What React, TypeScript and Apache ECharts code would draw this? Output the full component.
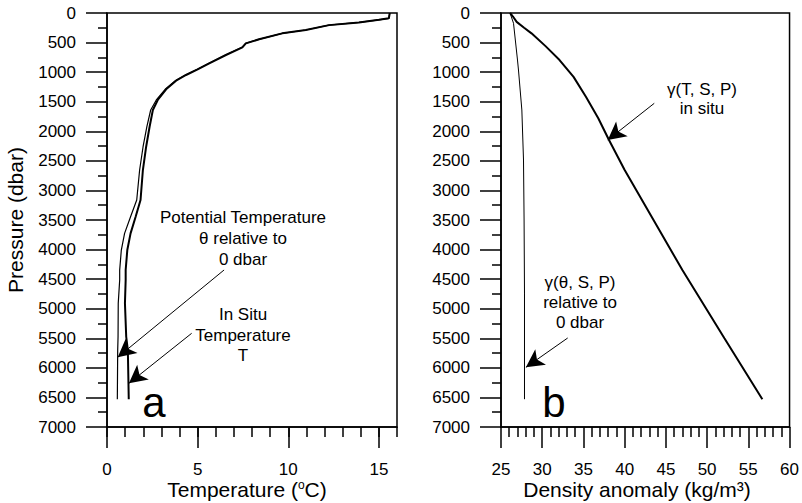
import React, { useEffect, useRef } from "react";
import * as echarts from "echarts";

// ---- Panel a: temperature profiles ----
const pressureTemp = [0, 90, 115, 160, 205, 287, 344, 445, 513, 580, 710, 851, 952, 1048, 1145, 1290, 1471, 1640, 1923, 2261, 2655, 3162, 3444, 3726, 4008, 4346, 4515, 4909, 5474, 5699, 6530];
const inSituTemp = [15.6, 15.55, 15.0, 13.9, 12.25, 10.97, 9.67, 8.39, 7.66, 7.47, 6.56, 5.64, 5.0, 4.36, 3.81, 3.26, 2.8, 2.53, 2.35, 2.16, 1.98, 1.85, 1.58, 1.3, 1.12, 1.03, 1.03, 0.99, 1.06, 1.15, 1.2];
const potentialTemp = [15.6, 15.55, 15.0, 13.9, 12.24, 10.96, 9.66, 8.38, 7.65, 7.45, 6.54, 5.62, 4.98, 4.33, 3.77, 3.21, 2.72, 2.41, 2.2, 1.99, 1.8, 1.64, 1.3, 0.97, 0.79, 0.7, 0.7, 0.62, 0.61, 0.59, 0.57];

// ---- Panel b: density anomaly profiles ----
const pressureInSituDensity = [0, 60, 150, 250, 344, 560, 795, 1080, 1415, 1780, 2148, 2655, 3500, 4346, 5500, 6530];
const inSituDensity = [26.1, 26.45, 26.9, 27.8, 28.7, 30.4, 32.1, 33.8, 35.3, 36.8, 38.1, 40.0, 43.5, 47.0, 52.1, 56.7];
const pressurePotDensity = [0, 174, 795, 964, 1640, 2486, 3500, 4735, 6530];
const potentialDensity = [26.1, 26.52, 27.0, 27.12, 27.53, 27.73, 27.8, 27.85, 27.85];

// ---- Axes ----
const pressureRange = [0, 7000];
const pressureStep = 500;
const tempRange = [0, 16];
const tempMajorTicks = [0, 5, 10, 15];
const densityRange = [25, 60];
const densityStep = 5;

// ---- Annotation arrows (data space: [x, pressure]) ----
const arrowTheta = [[6.46, 4345], [0.59, 5821]];
const arrowT = [[4.67, 5416], [1.21, 6261]];
const arrowInSitu = [[43.59, 1527], [37.95, 2147]];
const arrowPot = [[33.09, 5495], [28.02, 5991]];

const FONT = "Liberation Sans";
const BLACK = "#000";
const tickStyle = { color: BLACK, width: 1.5 };
const labelStyle = { color: BLACK, fontFamily: FONT, fontSize: 17 };

function arrowMark(a: number[][]) {
  return {
    silent: true,
    symbol: ["none", "arrow"],
    label: { show: false },
    lineStyle: { color: BLACK, width: 1, type: "solid" },
    emphasis: { disabled: true },
    data: [[{ coord: a[0], symbol: "none" }, { coord: a[1], symbol: "arrow", symbolSize: [14, 18] }]],
  };
}

function zip(xs: number[], ps: number[]) {
  return ps.map((p, i) => [xs[i], p]);
}

function yAxisFor(gridIndex: number) {
  return {
    gridIndex,
    type: "value",
    inverse: true,
    min: pressureRange[0],
    max: pressureRange[1],
    interval: pressureStep,
    axisLine: { show: true, onZero: false, lineStyle: tickStyle },
    axisTick: { show: true, length: 21, lineStyle: tickStyle },
    minorTick: { show: true, splitNumber: 2, length: 9, lineStyle: tickStyle },
    axisLabel: { ...labelStyle, margin: 31, formatter: (v: number) => String(v) },
    splitLine: { show: false },
    minorSplitLine: { show: false },
  };
}

function textEl(x: number, y: number, text: string, fontSize: number, lineHeight?: number, extra: any = {}) {
  return {
    type: "text",
    x,
    y,
    silent: true,
    ...extra,
    style: {
      text,
      fontFamily: FONT,
      fontSize,
      fill: BLACK,
      align: "center",
      verticalAlign: "middle",
      lineHeight: lineHeight ?? fontSize,
      ...(extra.style || {}),
    },
  };
}

export default function App() {
  const ref = useRef<HTMLDivElement>(null);
  useEffect(() => {
    const chart = echarts.init(ref.current!, null, { renderer: "svg" });
    const option: any = {
      animation: false,
      backgroundColor: "#fff",
      grid: [
        { left: 107, top: 13, width: 290, height: 414, show: true, borderColor: BLACK, borderWidth: 1.5, backgroundColor: "transparent" },
        { left: 501, top: 13, width: 290, height: 414, show: true, borderColor: BLACK, borderWidth: 1.5, backgroundColor: "transparent" },
      ],
      xAxis: [
        {
          gridIndex: 0,
          type: "value",
          position: "bottom",
          min: tempRange[0],
          max: tempRange[1],
          interval: 5,
          axisLine: { show: true, onZero: false, lineStyle: tickStyle },
          axisTick: { show: true, length: 21, lineStyle: tickStyle, customValues: tempMajorTicks },
          axisLabel: {
            ...labelStyle,
            margin: 34,
            customValues: tempMajorTicks,
            formatter: (v: number) => (tempMajorTicks.includes(v) ? String(v) : ""),
          },
          splitLine: { show: false },
        },
        {
          gridIndex: 0,
          type: "value",
          position: "bottom",
          min: tempRange[0],
          max: tempRange[1],
          interval: 1,
          axisLine: { show: false, onZero: false },
          axisTick: { show: true, length: 10, lineStyle: tickStyle },
          axisLabel: { show: false },
          splitLine: { show: false },
        },
        {
          gridIndex: 1,
          type: "value",
          position: "bottom",
          min: densityRange[0],
          max: densityRange[1],
          interval: densityStep,
          axisLine: { show: true, onZero: false, lineStyle: tickStyle },
          axisTick: { show: true, length: 21, lineStyle: tickStyle },
          minorTick: { show: true, splitNumber: 5, length: 10, lineStyle: tickStyle },
          axisLabel: { ...labelStyle, margin: 34 },
          splitLine: { show: false },
          minorSplitLine: { show: false },
        },
      ],
      yAxis: [yAxisFor(0), yAxisFor(1)],
      series: [
        {
          name: "Potential Temperature",
          type: "line",
          xAxisIndex: 0,
          yAxisIndex: 0,
          symbol: "none",
          data: zip(potentialTemp, pressureTemp),
          lineStyle: { color: BLACK, width: 1.2 },
          markLine: arrowMark(arrowTheta),
        },
        {
          name: "In Situ Temperature",
          type: "line",
          xAxisIndex: 0,
          yAxisIndex: 0,
          symbol: "none",
          data: zip(inSituTemp, pressureTemp),
          lineStyle: { color: BLACK, width: 2 },
          markLine: arrowMark(arrowT),
        },
        {
          name: "In situ density",
          type: "line",
          xAxisIndex: 2,
          yAxisIndex: 1,
          symbol: "none",
          data: zip(inSituDensity, pressureInSituDensity),
          lineStyle: { color: BLACK, width: 2 },
          markLine: arrowMark(arrowInSitu),
        },
        {
          name: "Potential density",
          type: "line",
          xAxisIndex: 2,
          yAxisIndex: 1,
          symbol: "none",
          data: zip(potentialDensity, pressurePotDensity),
          lineStyle: { color: BLACK, width: 1 },
          markLine: arrowMark(arrowPot),
        },
      ],
      graphic: [
        textEl(243, 238, "Potential Temperature\nθ relative to\n0 dbar", 17, 21),
        textEl(243, 335, "In Situ\nTemperature\nT", 17, 20.5),
        textEl(702, 99, "γ(T, S, P)\nin situ", 17, 18.5),
        textEl(580, 302, "γ(θ, S, P)\nrelative to\n0 dbar", 17, 20),
        textEl(154, 402, "a", 42),
        textEl(554, 402, "b", 42),
        textEl(247, 489, "Temperature ({sup|o}C)", 21, 21, {
          style: { rich: { sup: { fontSize: 12, fontFamily: FONT, fill: BLACK, verticalAlign: "top" } } },
        }),
        textEl(637, 489, "Density anomaly (kg/m³)", 21),
        textEl(15, 220, "Pressure (dbar)", 21, 21, { rotation: Math.PI / 2 }),
      ],
    };
    chart.setOption(option);
    return () => chart.dispose();
  }, []);
  return (
    <div
      ref={ref}
      style={{ position: "fixed", left: 0, top: 0, width: 802, height: 503, background: "#fff" }}
    />
  );
}
